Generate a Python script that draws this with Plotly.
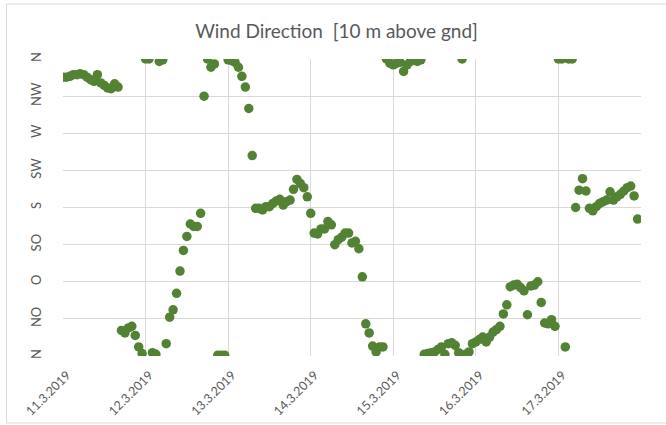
import pandas as pd
import plotly.graph_objects as go

# hourly wind direction in degrees, starting 11.3.2019 00:00
direction_deg = [
    # 11.3.2019
    338, 338, 339, 341, 341, 342, 341, 338, 335, 333, 341, 331, 328, 325, 324, 330,
    326, 31, 28, 34, 36, 25, 11, 3,
    # 12.3.2019
    360, 360, 4, 2, 357, 359, 15, 47, 56, 76, 103, 128, 145, 160, 157, 157,
    173, 315, 360, 350, 354, 1, 1, 1,
    # 13.3.2019
    359, 358, 356, 350, 339, 326, 300, 243, 179, 179, 177, 181, 181, 185, 188, 190,
    183, 187, 189, 202, 214, 209, 204, 193,
    # 14.3.2019
    173, 149, 148, 154, 154, 163, 159, 135, 141, 144, 149, 149, 137, 139, 130, 96,
    39, 28, 12, 5, 11, 11, 360, 355,
    # 15.3.2019
    353, 355, 356, 345, 353, 357, 360, 357, 359, 2, 3, 4, 5, 8, 11, 2,
    15, 16, 13, 4, 360, 2, 5, 15,
    # 16.3.2019
    17, 20, 23, 17, 23, 29, 32, 36, 51, 62, 84, 86, 87, 83, 79, 50,
    85, 86, 90, 65, 40, 39, 44, 36,
    # 17.3.2019
    360, 360, 11, 360, 360, 180, 201, 215, 200, 179, 176, 181, 185, 187, 189, 199,
    189, 193, 196, 200, 204, 206, 194, 166,
]

times = pd.date_range("2019-03-11 00:00", periods=len(direction_deg), freq="h")

day_ticks = pd.date_range("2019-03-11", "2019-03-18", freq="D")
day_labels = ["11.3.2019", "12.3.2019", "13.3.2019", "14.3.2019",
              "15.3.2019", "16.3.2019", "17.3.2019", ""]

dir_ticks = [0, 45, 90, 135, 180, 225, 270, 315, 360]
dir_labels = ["N", "NO", "O", "SO", "S", "SW", "W", "NW", "N"]

title_text = "Wind Direction  [10 m above gnd]"

fig = go.Figure()
fig.add_trace(go.Scatter(
    x=times, y=direction_deg, mode="markers",
    marker=dict(size=9.5, color="#548235"),
    showlegend=False, hoverinfo="x+y",
))

W, H = 666, 425
L, R, T, B = 63, 25, 59, 69
pw, ph = W - L - R, H - T - B

def px_x(p):
    return (p - L) / pw

def px_y(p):
    return (H - B - p) / ph

fig.update_layout(
    width=W, height=H,
    margin=dict(l=L, r=R, t=T, b=B, autoexpand=False),
    paper_bgcolor="white", plot_bgcolor="white",
    font=dict(family="Lato, Open Sans, sans-serif", color="#595959", size=12),
    title=dict(text=title_text, x=336.5 / W, xanchor="center", xref="container",
               y=1 - 31 / H, yanchor="middle",
               font=dict(size=19, color="#595959")),
    xaxis=dict(
        range=[day_ticks[0], day_ticks[-1]],
        tickvals=list(day_ticks), ticktext=day_labels, automargin=False,
        tickangle=-45, showgrid=True, gridcolor="#d9d9d9", gridwidth=1,
        zeroline=False, showline=False, ticks="outside", ticklen=6,
        tickcolor="rgba(0,0,0,0)", tickfont=dict(size=12.5), ticklabelshift=4,
    ),
    yaxis=dict(
        range=[0, 360], tickvals=dir_ticks, ticktext=dir_labels, automargin=False,
        tickangle=-90, showgrid=True, gridcolor="#d9d9d9", gridwidth=1,
        zeroline=False, showline=False, ticks="outside", ticklen=16,
        tickcolor="rgba(0,0,0,0)", tickfont=dict(size=13),
    ),
    shapes=[dict(type="rect", xref="paper", yref="paper",
                 x0=px_x(6.5), x1=px_x(675), y0=px_y(423), y1=px_y(4),
                 line=dict(color="#d9d9d9", width=1), layer="below")],
)

fig.write_html("out.html", config={"displayModeBar": False},
               post_script="document.body.style.margin='0';document.body.style.padding='0';")
